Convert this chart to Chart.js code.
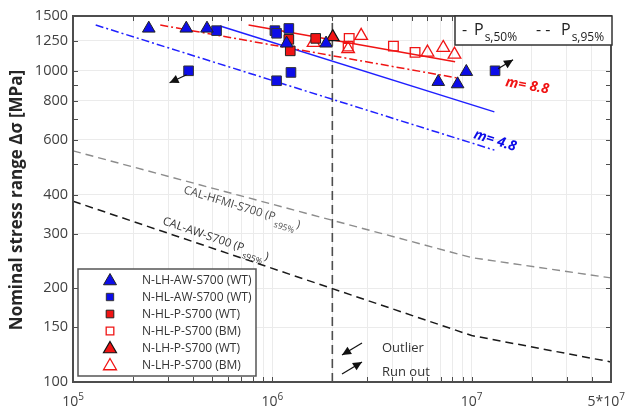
<!DOCTYPE html>
<html>
<head>
<meta charset="utf-8">
<script src="https://cdn.jsdelivr.net/npm/chart.js@4.4.0/dist/chart.umd.min.js"></script>
<style>
    html, body { margin: 0; padding: 0; background: #fff; }
    #wrap { width: 627px; height: 410px; }
</style>
</head>
<body>
<div id="wrap"><canvas id="snChart" width="627" height="410"></canvas></div>
<script>
// test results: cycles to failure N and nominal stress range in MPa
const lhAwWtCycles = [2.4e5, 3.7e5, 4.7e5, 1.18e6, 1.86e6, 6.8e6, 8.5e6, 9.4e6];
const lhAwWtStress = [1368, 1368, 1368, 1225, 1225, 922, 906, 993];
const hlAwWtCycles = [3.8e5, 5.25e5, 1.03e6, 1.05e6, 1.05e6, 1.21e6, 1.24e6, 1.31e7];
const hlAwWtStress = [1000, 1346, 1346, 1320, 929, 1368, 988, 1000];
const hlPWtCycles = [1.21e6, 1.23e6, 1.65e6];
const hlPWtStress = [1262, 1159, 1271];
const hlPBmCycles = [2.43e6, 2.4e6, 4.05e6, 5.2e6];
const hlPBmStress = [1270, 1200, 1200, 1146];
const lhPWtCycles = [2.01e6];
const lhPWtStress = [1285];
const lhPBmCycles = [1.61e6, 2.4e6, 2.79e6, 6.0e6, 7.2e6, 8.2e6];
const lhPBmStress = [1230, 1175, 1297, 1146, 1186, 1129];

// fitted curves (50% and 95% survival)
const p50Cycles = [7.6e5, 8.26e6];
const p50Stress = [1403, 1069];
const p95Cycles = [2.74e5, 8.4e6];
const p95Stress = [1403, 949];
const aw50Cycles = [5.47e5, 1.3e7];
const aw50Stress = [1393, 738];
const aw95Cycles = [1.3e5, 1.3e7];
const aw95Stress = [1403, 556];

// design curves
const hfmiCalCycles = [1e5, 1e7, 5e7];
const hfmiCalStress = [553, 251, 216];
const awCalCycles = [1e5, 1e7, 5e7];
const awCalStress = [381, 141, 116];
const refCycles = [2e6, 2e6];
const refStress = [100, 1500];

// outlier / run out markers
const outlierPoint = [3.8e5, 1000];
const runOutPoint = [1.31e7, 1000];

// axis ticks
const xGridTicks = [1e5, 2e5, 3e5, 4e5, 5e5, 6e5, 7e5, 8e5, 9e5,
    1e6, 2e6, 3e6, 4e6, 5e6, 6e6, 7e6, 8e6, 9e6, 1e7, 2e7, 3e7, 4e7, 5e7];
const xLabelValues = [1e5, 1e6, 1e7, 5e7];
const xLabelTexts = ["10^5", "10^6", "10^7", "5*10^7"];
const yTickValues = [100, 150, 200, 300, 400, 500, 600, 700, 800, 900, 1000, 1250, 1500];
const yLabelValues = [100, 150, 200, 300, 400, 600, 800, 1000, 1250, 1500];

const FONT = "'Open Sans', 'Noto Sans', sans-serif";
const BLUE = "#0d0de8";
const RED = "#f01414";

function pts(xs, ys) {
    return xs.map((v, i) => ({ x: v, y: ys[i] }));
}

function markerSet(label, xs, ys, style, fill, stroke, r, lw, legendR) {
    return {
        label: label,
        data: pts(xs, ys),
        showLine: false,
        pointStyle: style,
        pointRadius: r,
        pointHoverRadius: r,
        pointBackgroundColor: fill,
        pointBorderColor: stroke,
        pointBorderWidth: lw,
        legendRadius: legendR,
        order: 0
    };
}

function lineSet(xs, ys, color, dash, width) {
    return {
        data: pts(xs, ys),
        showLine: true,
        borderColor: color,
        borderDash: dash,
        borderWidth: width,
        pointRadius: 0,
        pointHoverRadius: 0,
        tension: 0,
        order: 1
    };
}

function arrow(ctx, x1, y1, x2, y2) {
    ctx.beginPath();
    ctx.moveTo(x1, y1);
    ctx.lineTo(x2, y2);
    ctx.stroke();
    const a = Math.atan2(y2 - y1, x2 - x1);
    const h = 10;
    ctx.beginPath();
    ctx.moveTo(x2, y2);
    ctx.lineTo(x2 - h * Math.cos(a - 0.45), y2 - h * Math.sin(a - 0.45));
    ctx.lineTo(x2 - h * Math.cos(a + 0.45), y2 - h * Math.sin(a + 0.45));
    ctx.closePath();
    ctx.fill();
}

// text with a lowered subscript part, e.g. "(P" + "s95%" + ")"
function subText(ctx, x, y, main, sub, tail, size, subSize, drop) {
    ctx.font = size + "px " + FONT;
    ctx.fillText(main, x, y);
    let w = ctx.measureText(main).width + 1;
    ctx.font = subSize + "px " + FONT;
    ctx.fillText(sub, x + w, y + drop);
    w += ctx.measureText(sub).width + 1;
    if (tail) {
        ctx.font = size + "px " + FONT;
        ctx.fillText(tail, x + w, y);
    }
}

const decorations = {
    id: "decorations",
    afterDraw(chart) {
        const ctx = chart.ctx;
        const area = chart.chartArea;
        const xs = chart.scales.x;
        const ys = chart.scales.y;
        ctx.save();

        // box and inward ticks
        ctx.strokeStyle = "#4d4d4d";
        ctx.lineWidth = 1;
        ctx.beginPath();
        xGridTicks.forEach(v => {
            const px = Math.round(xs.getPixelForValue(v)) + 0.5;
            ctx.moveTo(px, area.bottom);
            ctx.lineTo(px, area.bottom - 5);
            ctx.moveTo(px, area.top);
            ctx.lineTo(px, area.top + 5);
        });
        yTickValues.forEach(v => {
            const py = Math.round(ys.getPixelForValue(v)) + 0.5;
            ctx.moveTo(area.left, py);
            ctx.lineTo(area.left + 5, py);
            ctx.moveTo(area.right, py);
            ctx.lineTo(area.right - 5, py);
        });
        ctx.stroke();
        ctx.lineWidth = 2;
        ctx.strokeRect(area.left, area.top, area.right - area.left, area.bottom - area.top);

        // x labels with exponent
        ctx.fillStyle = "#404040";
        ctx.textBaseline = "alphabetic";
        ctx.textAlign = "left";
        xLabelValues.forEach((v, i) => {
            const parts = xLabelTexts[i].split("^");
            ctx.font = "14px " + FONT;
            const wb = ctx.measureText(parts[0]).width;
            ctx.font = "10px " + FONT;
            const we = ctx.measureText(parts[1]).width;
            let left = xs.getPixelForValue(v) - (wb + we) / 2;
            left = Math.min(left, chart.width - 2 - wb - we);
            ctx.font = "14px " + FONT;
            ctx.fillText(parts[0], left, 406);
            ctx.font = "10px " + FONT;
            ctx.fillText(parts[1], left + wb, 400);
        });

        // y title
        ctx.save();
        ctx.translate(17, 200);
        ctx.rotate(-Math.PI / 2);
        ctx.textAlign = "center";
        ctx.textBaseline = "middle";
        ctx.fillStyle = "#262626";
        ctx.font = "bold 17px " + FONT;
        ctx.fillText("Nominal stress range \u0394\u03c3 [MPa]", 0, 0);
        ctx.restore();

        // curve labels
        ctx.textAlign = "left";
        ctx.save();
        ctx.translate(183, 193);
        ctx.rotate(17 * Math.PI / 180);
        ctx.fillStyle = "#4a4a4a";
        subText(ctx, 0, 0, "CAL-HFMI-S700 (P", "s95%", ")", 11.5, 8.5, 6);
        ctx.restore();

        ctx.save();
        ctx.translate(162, 224);
        ctx.rotate(19 * Math.PI / 180);
        ctx.fillStyle = "#333";
        subText(ctx, 0, 0, "CAL-AW-S700 (P", "s95%", ")", 11.5, 8.5, 6);
        ctx.restore();

        ctx.save();
        ctx.translate(505, 86);
        ctx.rotate(10 * Math.PI / 180);
        ctx.fillStyle = RED;
        ctx.font = "italic bold 14px " + FONT;
        ctx.fillText("m= 8.8", 0, 0);
        ctx.restore();

        ctx.save();
        ctx.translate(473, 138);
        ctx.rotate(17.5 * Math.PI / 180);
        ctx.fillStyle = BLUE;
        ctx.font = "italic bold 14px " + FONT;
        ctx.fillText("m= 4.8", 0, 0);
        ctx.restore();

        // outlier / run out arrows on the points
        ctx.strokeStyle = "#111";
        ctx.fillStyle = "#111";
        ctx.lineWidth = 1.2;
        const op = [xs.getPixelForValue(outlierPoint[0]), ys.getPixelForValue(outlierPoint[1])];
        arrow(ctx, op[0] - 2, op[1] + 4, op[0] - 19, op[1] + 12);
        const rp = [xs.getPixelForValue(runOutPoint[0]), ys.getPixelForValue(runOutPoint[1])];
        arrow(ctx, rp[0] + 3, rp[1] - 2, rp[0] + 18, rp[1] - 11);

        // explanation of arrows
        arrow(ctx, 362, 343, 342, 355);
        arrow(ctx, 342, 374, 362, 362);
        ctx.fillStyle = "#333";
        ctx.font = "13px " + FONT;
        ctx.textBaseline = "middle";
        ctx.fillText("Outlier", 382, 348);
        ctx.fillText("Run out", 382, 372);
        ctx.textBaseline = "alphabetic";

        // Ps legend box at top right
        const bx = area.right - 156;
        ctx.fillStyle = "#fff";
        ctx.fillRect(bx, area.top, 157, 29);
        ctx.strokeStyle = "#333";
        ctx.lineWidth = 1.5;
        ctx.strokeRect(bx, area.top, 157, 29);
        ctx.fillStyle = "#222";
        ctx.font = "16px " + FONT;
        ctx.fillText("-", bx + 7, 35);
        subText(ctx, bx + 19, 35, "P", "s,50%", "", 16, 12, 6);
        ctx.font = "16px " + FONT;
        ctx.fillText("- -", bx + 81, 35);
        subText(ctx, bx + 106, 35, "P", "s,95%", "", 16, 12, 6);

        // markers legend at bottom left
        const lx = area.left + 5;
        const ly = 269;
        ctx.fillStyle = "#fff";
        ctx.fillRect(lx, ly, 178, 107);
        ctx.strokeStyle = "#555";
        ctx.lineWidth = 1.5;
        ctx.strokeRect(lx, ly, 178, 107);
        const entries = chart.data.datasets.filter(d => d.label);
        entries.forEach((d, i) => {
            const cy = ly + 11 + i * 17;
            ctx.fillStyle = d.pointBackgroundColor;
            ctx.strokeStyle = d.pointBorderColor;
            ctx.lineWidth = d.pointBorderWidth;
            Chart.helpers.drawPoint(ctx, {
                pointStyle: d.pointStyle,
                radius: d.legendRadius,
                borderWidth: d.pointBorderWidth,
                rotation: 0
            }, lx + 32, cy + (d.pointStyle === "triangle" ? 1 : 0));
            ctx.fillStyle = "#333";
            ctx.font = "12px " + FONT;
            ctx.textBaseline = "middle";
            ctx.fillText(d.label, lx + 64, cy + 1);
        });

        ctx.restore();
    }
};

const datasets = [
    markerSet("N-LH-AW-S700 (WT)", lhAwWtCycles, lhAwWtStress, "triangle", BLUE, "#222", 7.3, 1, 7.5),
    markerSet("N-HL-AW-S700 (WT)", hlAwWtCycles, hlAwWtStress, "rect", BLUE, "#333", 6.8, 1, 5.2),
    markerSet("N-HL-P-S700 (WT)", hlPWtCycles, hlPWtStress, "rect", RED, "#222", 6.8, 1, 5.4),
    markerSet("N-HL-P-S700 (BM)", hlPBmCycles, hlPBmStress, "rect", "rgba(255,255,255,0)", RED, 6.8, 1.3, 5.4),
    markerSet("N-LH-P-S700 (WT)", lhPWtCycles, lhPWtStress, "triangle", RED, "#111", 7.3, 1.2, 7.5),
    markerSet("N-LH-P-S700 (BM)", lhPBmCycles, lhPBmStress, "triangle", "rgba(255,255,255,0)", RED, 7.3, 1.3, 7.5),
    lineSet(p50Cycles, p50Stress, RED, [], 1.5),
    lineSet(p95Cycles, p95Stress, RED, [8, 3, 2, 3], 1.5),
    lineSet(aw50Cycles, aw50Stress, "#2020ff", [], 1.5),
    lineSet(aw95Cycles, aw95Stress, "#2020ff", [8, 3, 2, 3], 1.5),
    lineSet(hfmiCalCycles, hfmiCalStress, "#8c8c8c", [8, 5], 1.4),
    lineSet(awCalCycles, awCalStress, "#1a1a1a", [8, 5], 1.5),
    lineSet(refCycles, refStress, "#4d4d4d", [9, 5], 1.6)
];

new Chart(document.getElementById("snChart"), {
    type: "scatter",
    data: { datasets: datasets },
    options: {
        responsive: false,
        animation: false,
        devicePixelRatio: 1,
        layout: { padding: { top: 16, right: 16, left: 0, bottom: 0 } },
        plugins: {
            legend: { display: false },
            tooltip: { enabled: false }
        },
        scales: {
            x: {
                type: "logarithmic",
                min: 1e5,
                max: 5e7,
                afterBuildTicks: s => { s.ticks = xGridTicks.map(v => ({ value: v })); },
                afterFit: s => { s.height = 28; },
                ticks: { display: false },
                grid: { color: "#ebebeb", drawTicks: false },
                border: { display: false }
            },
            y: {
                type: "logarithmic",
                min: 100,
                max: 1500,
                afterBuildTicks: s => { s.ticks = yTickValues.map(v => ({ value: v })); },
                afterFit: s => { s.width = 73; },
                ticks: {
                    autoSkip: false,
                    padding: 5,
                    color: "#404040",
                    font: { family: FONT, size: 14.5 },
                    callback: v => yLabelValues.includes(v) ? String(v) : ""
                },
                grid: {
                    drawTicks: false,
                    color: c => (c.tick && yLabelValues.includes(c.tick.value)) ? "#ebebeb" : "rgba(0,0,0,0)"
                },
                border: { display: false }
            }
        }
    },
    plugins: [decorations]
});
</script>
</body>
</html>
